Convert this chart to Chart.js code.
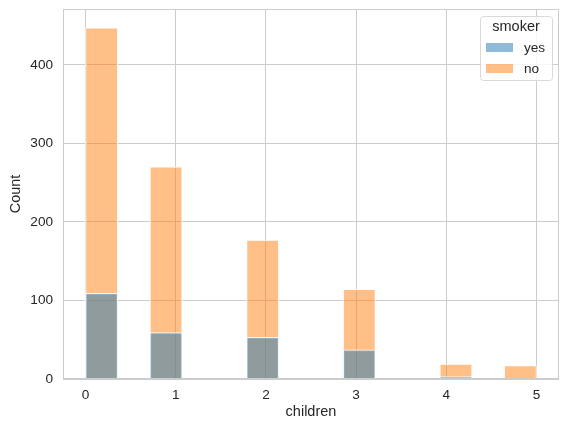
<!DOCTYPE html>
<html>
<head>
<meta charset="utf-8">
<script src="https://cdn.jsdelivr.net/npm/chart.js@4"></script>
<style>
  html, body { margin: 0; padding: 0; background: #fff; }
  #wrap { width: 568px; height: 430px; }
</style>
</head>
<body>
<div id="wrap"><canvas id="chart" width="568" height="430"></canvas></div>
<script>
// number of children per person, counted by smoker status
const children = [0, 1, 2, 3, 4, 5]
const smokerYes = [109, 59, 53, 37, 3, 0]
const smokerNo = [447, 270, 177, 114, 19, 17]
const yTicks = [0, 100, 200, 300, 400]

// seaborn auto bins: 14 bins over 0..5
const binCount = 14
const binWidth = 5 / binCount

function toBins(values) {
  const bins = new Array(binCount).fill(0)
  children.forEach((c, i) => {
    const idx = Math.min(Math.floor(c / binWidth), binCount - 1)
    bins[idx] += values[i]
  })
  return bins.map((v, i) => ({ x: (i + 0.5) * binWidth, y: v }))
}

const textColor = "#262626"
const gridColor = "#cccccc"
const font = "'Liberation Sans', Arial, sans-serif"

// box around the plot like matplotlib spines
const frame = {
  id: "frame",
  afterDatasetsDraw(chart) {
    const { ctx, chartArea: a } = chart
    ctx.save()
    ctx.strokeStyle = gridColor
    ctx.lineWidth = 1
    ctx.strokeRect(a.left + 0.5, a.top + 0.5, a.right - a.left - 1, a.bottom - a.top - 1)
    ctx.restore()
  }
}

// legend drawn inside the axes, top right
const innerLegend = {
  id: "innerLegend",
  afterDraw(chart) {
    const { ctx, chartArea: a } = chart
    const w = 72, h = 64
    const x = a.right - 7 - w, y = a.top + 7
    ctx.save()
    ctx.beginPath()
    ctx.roundRect(x + 0.5, y + 0.5, w, h, 3)
    ctx.fillStyle = "rgba(255,255,255,0.8)"
    ctx.fill()
    ctx.strokeStyle = "#d9d9d9"
    ctx.stroke()
    ctx.fillStyle = textColor
    ctx.textBaseline = "middle"
    ctx.textAlign = "center"
    ctx.font = "14.5px " + font
    ctx.fillText("smoker", x + w / 2, y + 11)
    ctx.textAlign = "left"
    ctx.font = "13.6px " + font
    chart.data.datasets.forEach((ds, i) => {
      const ry = y + 31 + i * 21
      ctx.fillStyle = ds.backgroundColor
      ctx.fillRect(x + 6, ry - 4, 27, 9)
      ctx.fillStyle = textColor
      ctx.fillText(ds.label, x + 44, ry + 1)
    })
    ctx.restore()
  }
}

new Chart(document.getElementById("chart"), {
  type: "bar",
  data: {
    datasets: [
      {
        label: "yes",
        data: toBins(smokerYes),
        backgroundColor: "rgba(31,119,180,0.5)",
        borderColor: "rgba(255,255,255,0.85)",
        borderWidth: 1,
        grouped: false,
        barPercentage: 1,
        categoryPercentage: 1
      },
      {
        label: "no",
        data: toBins(smokerNo),
        backgroundColor: "rgba(255,127,14,0.5)",
        borderColor: "rgba(255,255,255,0.85)",
        borderWidth: 1,
        grouped: false,
        barPercentage: 1,
        categoryPercentage: 1
      }
    ]
  },
  options: {
    responsive: false,
    animation: false,
    devicePixelRatio: 1,
    layout: { padding: { top: 9, right: 9, left: 0, bottom: 0 } },
    plugins: {
      legend: { display: false },
      tooltip: { enabled: false }
    },
    scales: {
      x: {
        type: "linear",
        min: -0.25,
        max: 5.25,
        offset: false,
        afterFit: s => { s.height = 51; s.paddingLeft = 0; s.paddingRight = 0 },
        grid: { color: gridColor, drawTicks: false, offset: false },
        border: { display: false },
        ticks: {
          stepSize: 1,
          includeBounds: false,
          padding: 8,
          color: textColor,
          font: { family: font, size: 13.6 },
          callback: v => Number.isInteger(v) && children.includes(v) ? String(v) : null
        },
        title: {
          display: true,
          text: "children",
          color: textColor,
          font: { family: font, size: 14.5 },
          padding: { top: 0, bottom: 9 }
        }
      },
      y: {
        min: 0,
        max: 471,
        afterFit: s => { s.width = 63; s.paddingTop = 0; s.paddingBottom = 0 },
        afterBuildTicks: s => { s.ticks = yTicks.map(v => ({ value: v })) },
        grid: { color: gridColor, drawTicks: false },
        border: { display: false },
        ticks: {
          padding: 10,
          color: textColor,
          font: { family: font, size: 13.6 }
        },
        title: {
          display: true,
          text: "Count",
          color: textColor,
          font: { family: font, size: 14.5 },
          padding: { top: 7, bottom: 8 }
        }
      }
    }
  },
  plugins: [frame, innerLegend]
})
</script>
</body>
</html>
